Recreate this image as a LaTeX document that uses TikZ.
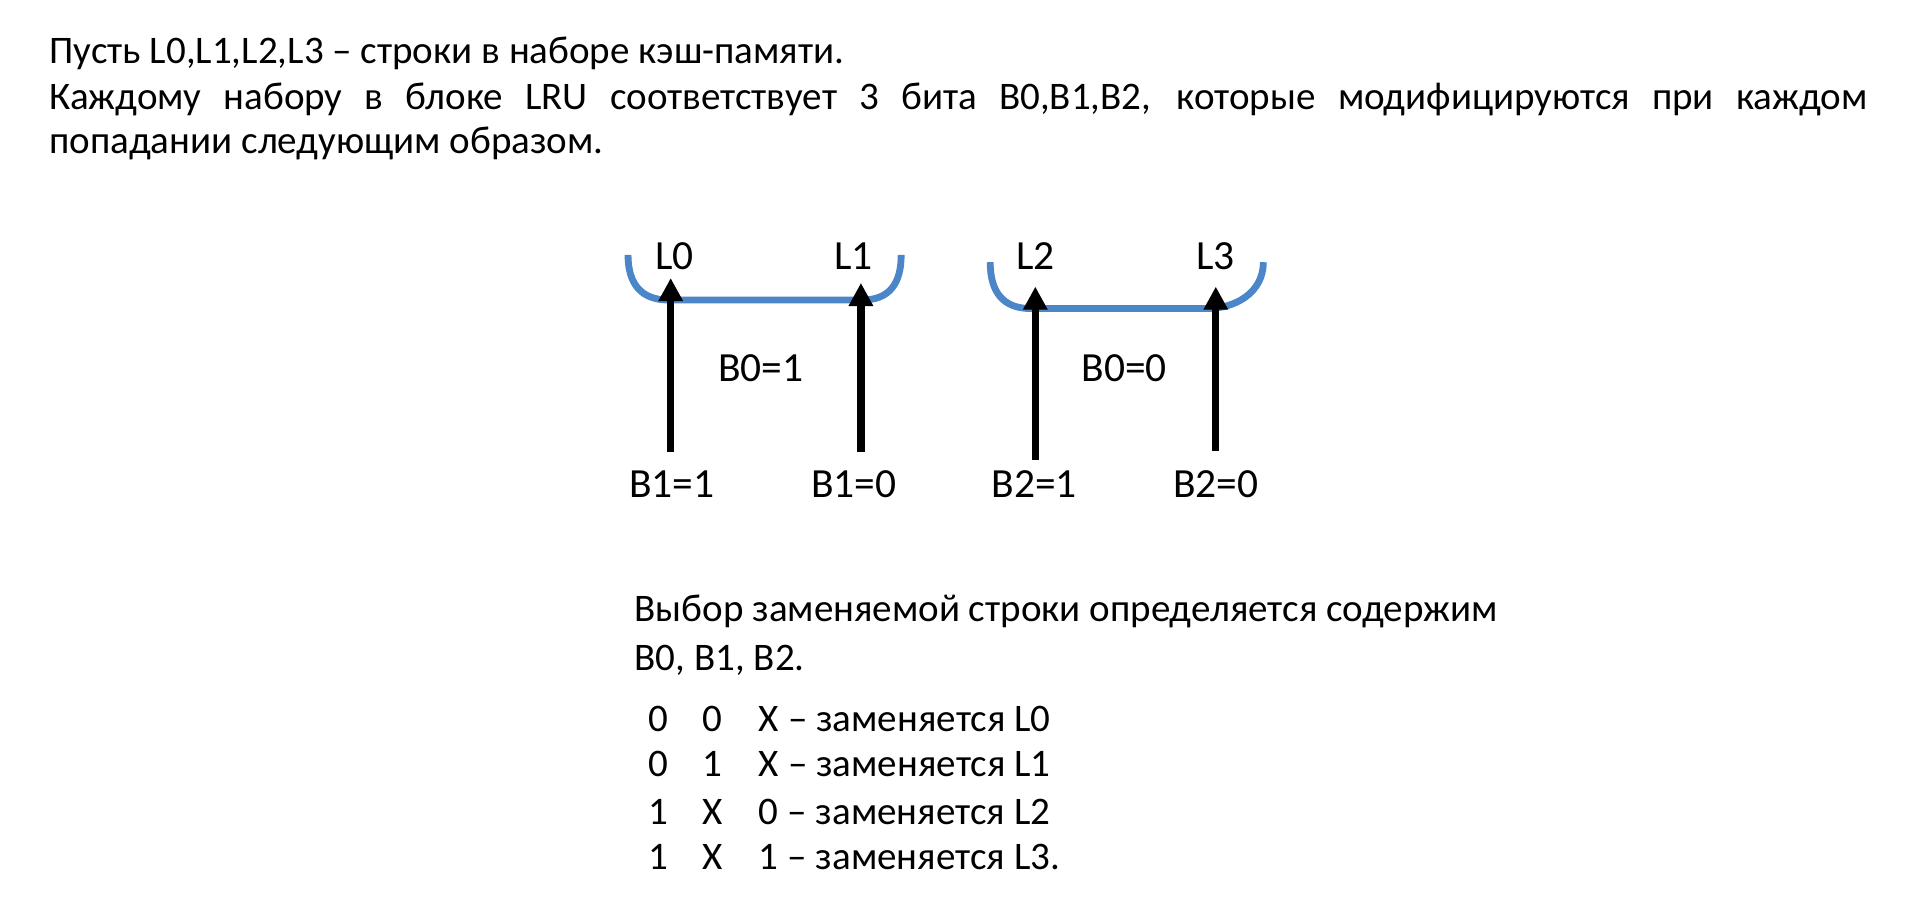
\documentclass[tikz,border=0pt]{standalone}
\usepackage{fontspec}
\setmainfont{Carlito}
\usetikzlibrary{arrows.meta}
\definecolor{brk}{RGB}{74,134,200}
\begin{document}
\begin{tikzpicture}[x=0.5pt,y=-0.5pt,
  body/.style={inner sep=0pt, font=\fontsize{16}{19}\selectfont, anchor=base west},
  cell/.style={inner sep=0pt, font=\fontsize{16}{19}\selectfont, anchor=base},
  lbl/.style={inner sep=0pt, font=\fontsize{17}{20}\selectfont, anchor=base},
  brkt/.style={draw=brk, line width=2.8pt, line cap=butt},
  arr/.style={line width=3pt, -{Triangle[width=9.5pt,length=9.5pt]}}]
\useasboundingbox[fill=white] (0,0) rectangle (1563,748);
% top paragraph
\node[body] (t1) at (40,52) {Пусть L0,L1,L2,L3 – строки в наборе кэш-памяти.};
\node[body] (t2) at (40,90) {\makebox[745.5pt][s]{Каждому набору в блоке LRU соответствует 3 бита B0,B1,B2, которые модифицируются при каждом}};
\node[body] (t3) at (40,126) {попадании следующим образом.};
% brackets
\draw[brkt] (515,209) .. controls (515,233) and (526,246) .. (548,246) -- (707,246) .. controls (729,246) and (739,233) .. (739,209);
\draw[brkt] (812,215) .. controls (812,240) and (823,253) .. (845,253) -- (990,253) .. controls (1013,253) and (1036,240) .. (1036,215);
% labels
\node[lbl] (l0) at (553,221) {L0};
\node[lbl] (l1) at (700,221) {L1};
\node[lbl] (l2) at (849,221) {L2};
\node[lbl] (l3) at (997,221) {L3};
\node[lbl] (b01) at (624,313) {B0=1};
\node[lbl] (b00) at (922,313) {B0=0};
\node[lbl] (b11) at (551,408) {B1=1};
\node[lbl] (b10) at (700,408) {B1=0};
\node[lbl] (b21) at (848,408) {B2=1};
\node[lbl] (b20) at (997,408) {B2=0};
% arrows
\coordinate (s0) at (550,371); \coordinate (e0) at (550,228);
\coordinate (s1) at (706,371); \coordinate (e1) at (706,232);
\coordinate (s2) at (849,377); \coordinate (e2) at (849,235);
\coordinate (s3) at (997,370); \coordinate (e3) at (997,235);
\draw[arr] (s0) -- (e0);
\draw[arr] (s1) -- (e1);
\draw[arr] (s2) -- (e2);
\draw[arr] (s3) -- (e3);
% lower text
\node[body] (v1) at (520,510) {Выбор заменяемой строки определяется содержим};
\node[body] (v2) at (520,550) {B0, B1, B2.};
\node[cell] (r1a) at (540,600) {0}; \node[cell] (r1b) at (584,600) {0}; \node[body] (r1c) at (622,600) {X – заменяется L0};
\node[cell] (r2a) at (540,637) {0}; \node[cell] (r2b) at (584,637) {1}; \node[body] (r2c) at (622,637) {X – заменяется L1};
\node[cell] (r3a) at (540,676) {1}; \node[cell] (r3b) at (584,676) {X}; \node[body] (r3c) at (622,676) {0 – заменяется L2};
\node[cell] (r4a) at (540,713) {1}; \node[cell] (r4b) at (584,713) {X}; \node[body] (r4c) at (622,713) {1 – заменяется L3.};
\end{tikzpicture}
\end{document}
